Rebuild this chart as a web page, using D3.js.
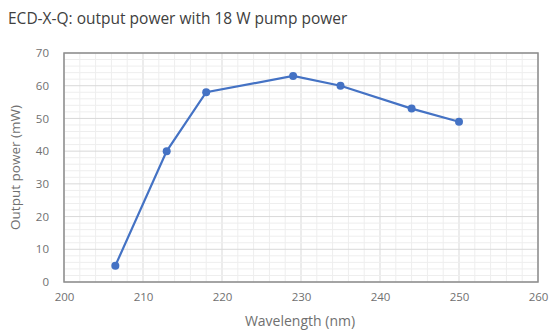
<!DOCTYPE html>
<html><head><meta charset="utf-8">
<script src="https://cdn.jsdelivr.net/npm/d3@7"></script>
<style>body{margin:0;background:#fff;}svg{display:block;}text{font-family:"Open Sans",sans-serif;}</style>
</head><body><svg id="c" width="550" height="331"></svg>
<script>
const wavelengths = [206.5, 213, 218, 229, 235, 244, 250];
const outputPower = [5, 40, 58, 63, 60, 53, 49];
const xTicks = [200, 210, 220, 230, 240, 250, 260];
const yTicks = [0, 10, 20, 30, 40, 50, 60, 70];
const titleText = "ECD-X-Q: output power with 18 W pump power";
const xLabel = "Wavelength (nm)";
const yLabel = "Output power (mW)";

const svg = d3.select("#c");
const m = {l: 64, r: 12, t: 53, b: 49};
const W = 550, H = 331;
const x = d3.scaleLinear().domain([200, 260]).range([m.l, W - m.r]);
const y = d3.scaleLinear().domain([0, 70]).range([H - m.b, m.t]);

// minor grid
const g = svg.append("g");
g.selectAll("line.vx").data(d3.range(200, 261, 2)).join("line")
  .attr("x1", d => x(d)).attr("x2", d => x(d)).attr("y1", y(0)).attr("y2", y(70))
  .attr("stroke", d => d % 10 === 0 ? "#d9d9d9" : "#eeeeee").attr("stroke-width", 1);
g.selectAll("line.hy").data(d3.range(0, 71, 2)).join("line")
  .attr("x1", x(200)).attr("x2", x(260)).attr("y1", d => y(d)).attr("y2", d => y(d))
  .attr("stroke", d => d % 10 === 0 ? "#d9d9d9" : "#eeeeee").attr("stroke-width", 1);

// border
svg.append("rect").attr("x", x(200)).attr("y", y(70)).attr("width", x(260) - x(200)).attr("height", y(0) - y(70))
  .attr("fill", "none").attr("stroke", "#8c8c8c").attr("stroke-width", 1.5);

// axes
const xa = svg.append("g").attr("transform", `translate(0,${y(0)})`)
  .call(d3.axisBottom(x).tickValues(xTicks).tickSize(0).tickPadding(11));
const ya = svg.append("g").attr("transform", `translate(${x(200)},0)`)
  .call(d3.axisLeft(y).tickValues(yTicks).tickSize(0).tickPadding(15));
[xa, ya].forEach(a => {
  a.select(".domain").remove();
  a.selectAll("text").attr("fill", "#707070").style("font-size", "11.5px").style("font-family", "'Open Sans',sans-serif");
});

// line
const line = d3.line().x((d, i) => x(wavelengths[i])).y(d => y(d));
svg.append("path").datum(outputPower).attr("d", line)
  .attr("fill", "none").attr("stroke", "#4472c4").attr("stroke-width", 2.2);
svg.selectAll("circle.pt").data(outputPower).join("circle")
  .attr("cx", (d, i) => x(wavelengths[i])).attr("cy", d => y(d)).attr("r", 4)
  .attr("fill", "#4472c4");

// texts
svg.append("text").attr("x", 8).attr("y", 24).text(titleText)
  .attr("fill", "#404040").style("font-size", "15.5px");
svg.append("text").attr("x", 300).attr("y", 326).attr("text-anchor", "middle")
  .text(xLabel).attr("fill", "#707070").style("font-size", "14px");
svg.append("text").attr("transform", `translate(20,${(y(0) + y(70)) / 2}) rotate(-90)`)
  .attr("text-anchor", "middle").text(yLabel).attr("fill", "#707070").style("font-size", "13.5px");
</script></body></html>
